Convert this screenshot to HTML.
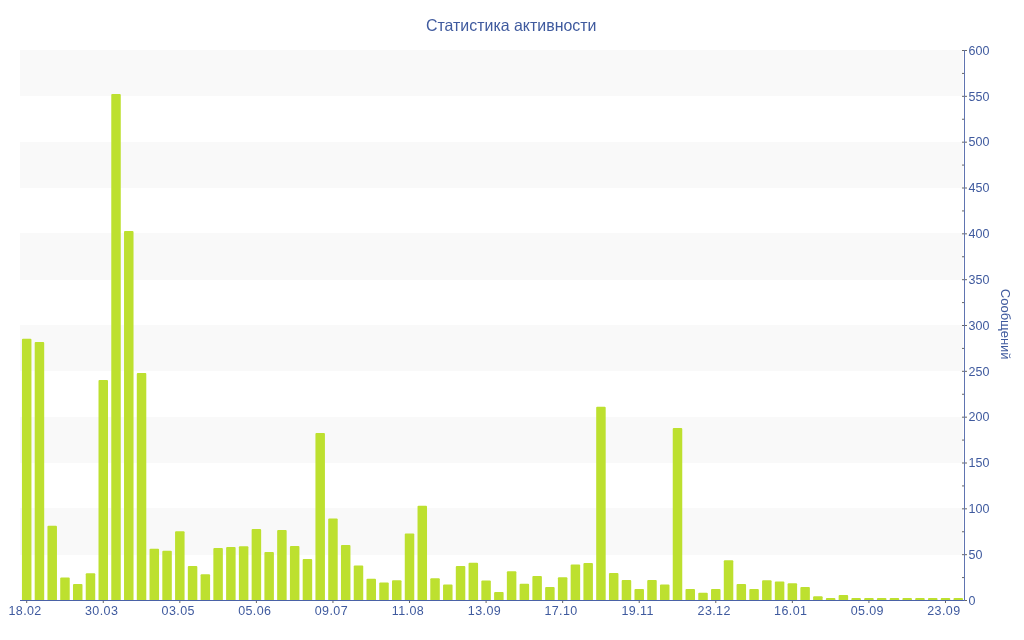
<!DOCTYPE html>
<html><head><meta charset="utf-8"><style>
html,body{margin:0;padding:0;background:#fff;}
svg{display:block;-webkit-font-smoothing:antialiased;will-change:transform;font-family:"Liberation Sans",sans-serif;}
</style></head><body>
<svg width="1024" height="640" viewBox="0 0 1024 640">
<rect x="20" y="50" width="943" height="46" fill="#f9f9f9"/>
<rect x="20" y="142" width="943" height="46" fill="#f9f9f9"/>
<rect x="20" y="233" width="943" height="47" fill="#f9f9f9"/>
<rect x="20" y="325" width="943" height="46" fill="#f9f9f9"/>
<rect x="20" y="417" width="943" height="46" fill="#f9f9f9"/>
<rect x="20" y="508" width="943" height="47" fill="#f9f9f9"/>
<path d="M21.94,600V339.75Q21.94,338.75 22.94,338.75H30.44Q31.44,338.75 31.44,339.75V600Z" fill="#bde02f"/>
<path d="M34.70,600V343.10Q34.70,342.10 35.70,342.10H43.20Q44.20,342.10 44.20,343.10V600Z" fill="#bde02f"/>
<path d="M47.46,600V526.75Q47.46,525.75 48.46,525.75H55.96Q56.96,525.75 56.96,526.75V600Z" fill="#bde02f"/>
<path d="M60.22,600V578.50Q60.22,577.50 61.22,577.50H68.72Q69.72,577.50 69.72,578.50V600Z" fill="#bde02f"/>
<path d="M72.98,600V585.00Q72.98,584.00 73.98,584.00H81.48Q82.48,584.00 82.48,585.00V600Z" fill="#bde02f"/>
<path d="M85.74,600V574.25Q85.74,573.25 86.74,573.25H94.24Q95.24,573.25 95.24,574.25V600Z" fill="#bde02f"/>
<path d="M98.51,600V381.00Q98.51,380.00 99.51,380.00H107.01Q108.01,380.00 108.01,381.00V600Z" fill="#bde02f"/>
<path d="M111.27,600V95.06Q111.27,94.06 112.27,94.06H119.77Q120.77,94.06 120.77,95.06V600Z" fill="#bde02f"/>
<path d="M124.03,600V232.00Q124.03,231.00 125.03,231.00H132.53Q133.53,231.00 133.53,232.00V600Z" fill="#bde02f"/>
<path d="M136.79,600V374.00Q136.79,373.00 137.79,373.00H145.29Q146.29,373.00 146.29,374.00V600Z" fill="#bde02f"/>
<path d="M149.55,600V549.75Q149.55,548.75 150.55,548.75H158.05Q159.05,548.75 159.05,549.75V600Z" fill="#bde02f"/>
<path d="M162.31,600V551.75Q162.31,550.75 163.31,550.75H170.81Q171.81,550.75 171.81,551.75V600Z" fill="#bde02f"/>
<path d="M175.07,600V532.25Q175.07,531.25 176.07,531.25H183.57Q184.57,531.25 184.57,532.25V600Z" fill="#bde02f"/>
<path d="M187.83,600V567.00Q187.83,566.00 188.83,566.00H196.33Q197.33,566.00 197.33,567.00V600Z" fill="#bde02f"/>
<path d="M200.59,600V575.25Q200.59,574.25 201.59,574.25H209.09Q210.09,574.25 210.09,575.25V600Z" fill="#bde02f"/>
<path d="M213.35,600V549.00Q213.35,548.00 214.35,548.00H221.85Q222.85,548.00 222.85,549.00V600Z" fill="#bde02f"/>
<path d="M226.12,600V548.00Q226.12,547.00 227.12,547.00H234.62Q235.62,547.00 235.62,548.00V600Z" fill="#bde02f"/>
<path d="M238.88,600V547.25Q238.88,546.25 239.88,546.25H247.38Q248.38,546.25 248.38,547.25V600Z" fill="#bde02f"/>
<path d="M251.64,600V530.00Q251.64,529.00 252.64,529.00H260.14Q261.14,529.00 261.14,530.00V600Z" fill="#bde02f"/>
<path d="M264.40,600V553.00Q264.40,552.00 265.40,552.00H272.90Q273.90,552.00 273.90,553.00V600Z" fill="#bde02f"/>
<path d="M277.16,600V531.00Q277.16,530.00 278.16,530.00H285.66Q286.66,530.00 286.66,531.00V600Z" fill="#bde02f"/>
<path d="M289.92,600V547.00Q289.92,546.00 290.92,546.00H298.42Q299.42,546.00 299.42,547.00V600Z" fill="#bde02f"/>
<path d="M302.68,600V560.00Q302.68,559.00 303.68,559.00H311.18Q312.18,559.00 312.18,560.00V600Z" fill="#bde02f"/>
<path d="M315.44,600V433.90Q315.44,432.90 316.44,432.90H323.94Q324.94,432.90 324.94,433.90V600Z" fill="#bde02f"/>
<path d="M328.20,600V519.40Q328.20,518.40 329.20,518.40H336.70Q337.70,518.40 337.70,519.40V600Z" fill="#bde02f"/>
<path d="M340.96,600V546.00Q340.96,545.00 341.96,545.00H349.46Q350.46,545.00 350.46,546.00V600Z" fill="#bde02f"/>
<path d="M353.73,600V566.50Q353.73,565.50 354.73,565.50H362.23Q363.23,565.50 363.23,566.50V600Z" fill="#bde02f"/>
<path d="M366.49,600V579.75Q366.49,578.75 367.49,578.75H374.99Q375.99,578.75 375.99,579.75V600Z" fill="#bde02f"/>
<path d="M379.25,600V583.50Q379.25,582.50 380.25,582.50H387.75Q388.75,582.50 388.75,583.50V600Z" fill="#bde02f"/>
<path d="M392.01,600V581.25Q392.01,580.25 393.01,580.25H400.51Q401.51,580.25 401.51,581.25V600Z" fill="#bde02f"/>
<path d="M404.77,600V534.45Q404.77,533.45 405.77,533.45H413.27Q414.27,533.45 414.27,534.45V600Z" fill="#bde02f"/>
<path d="M417.53,600V506.80Q417.53,505.80 418.53,505.80H426.03Q427.03,505.80 427.03,506.80V600Z" fill="#bde02f"/>
<path d="M430.29,600V579.25Q430.29,578.25 431.29,578.25H438.79Q439.79,578.25 439.79,579.25V600Z" fill="#bde02f"/>
<path d="M443.05,600V585.50Q443.05,584.50 444.05,584.50H451.55Q452.55,584.50 452.55,585.50V600Z" fill="#bde02f"/>
<path d="M455.81,600V567.00Q455.81,566.00 456.81,566.00H464.31Q465.31,566.00 465.31,567.00V600Z" fill="#bde02f"/>
<path d="M468.57,600V563.75Q468.57,562.75 469.57,562.75H477.07Q478.07,562.75 478.07,563.75V600Z" fill="#bde02f"/>
<path d="M481.34,600V581.50Q481.34,580.50 482.34,580.50H489.84Q490.84,580.50 490.84,581.50V600Z" fill="#bde02f"/>
<path d="M494.10,600V593.00Q494.10,592.00 495.10,592.00H502.60Q503.60,592.00 503.60,593.00V600Z" fill="#bde02f"/>
<path d="M506.86,600V572.25Q506.86,571.25 507.86,571.25H515.36Q516.36,571.25 516.36,572.25V600Z" fill="#bde02f"/>
<path d="M519.62,600V584.75Q519.62,583.75 520.62,583.75H528.12Q529.12,583.75 529.12,584.75V600Z" fill="#bde02f"/>
<path d="M532.38,600V577.00Q532.38,576.00 533.38,576.00H540.88Q541.88,576.00 541.88,577.00V600Z" fill="#bde02f"/>
<path d="M545.14,600V588.00Q545.14,587.00 546.14,587.00H553.64Q554.64,587.00 554.64,588.00V600Z" fill="#bde02f"/>
<path d="M557.90,600V578.25Q557.90,577.25 558.90,577.25H566.40Q567.40,577.25 567.40,578.25V600Z" fill="#bde02f"/>
<path d="M570.66,600V565.50Q570.66,564.50 571.66,564.50H579.16Q580.16,564.50 580.16,565.50V600Z" fill="#bde02f"/>
<path d="M583.42,600V564.00Q583.42,563.00 584.42,563.00H591.92Q592.92,563.00 592.92,564.00V600Z" fill="#bde02f"/>
<path d="M596.19,600V407.70Q596.19,406.70 597.19,406.70H604.69Q605.69,406.70 605.69,407.70V600Z" fill="#bde02f"/>
<path d="M608.95,600V574.00Q608.95,573.00 609.95,573.00H617.45Q618.45,573.00 618.45,574.00V600Z" fill="#bde02f"/>
<path d="M621.71,600V581.00Q621.71,580.00 622.71,580.00H630.21Q631.21,580.00 631.21,581.00V600Z" fill="#bde02f"/>
<path d="M634.47,600V590.00Q634.47,589.00 635.47,589.00H642.97Q643.97,589.00 643.97,590.00V600Z" fill="#bde02f"/>
<path d="M647.23,600V581.00Q647.23,580.00 648.23,580.00H655.73Q656.73,580.00 656.73,581.00V600Z" fill="#bde02f"/>
<path d="M659.99,600V585.50Q659.99,584.50 660.99,584.50H668.49Q669.49,584.50 669.49,585.50V600Z" fill="#bde02f"/>
<path d="M672.75,600V429.10Q672.75,428.10 673.75,428.10H681.25Q682.25,428.10 682.25,429.10V600Z" fill="#bde02f"/>
<path d="M685.51,600V590.00Q685.51,589.00 686.51,589.00H694.01Q695.01,589.00 695.01,590.00V600Z" fill="#bde02f"/>
<path d="M698.27,600V593.75Q698.27,592.75 699.27,592.75H706.77Q707.77,592.75 707.77,593.75V600Z" fill="#bde02f"/>
<path d="M711.03,600V590.00Q711.03,589.00 712.03,589.00H719.53Q720.53,589.00 720.53,590.00V600Z" fill="#bde02f"/>
<path d="M723.79,600V561.25Q723.79,560.25 724.79,560.25H732.29Q733.29,560.25 733.29,561.25V600Z" fill="#bde02f"/>
<path d="M736.56,600V585.10Q736.56,584.10 737.56,584.10H745.06Q746.06,584.10 746.06,585.10V600Z" fill="#bde02f"/>
<path d="M749.32,600V590.10Q749.32,589.10 750.32,589.10H757.82Q758.82,589.10 758.82,590.10V600Z" fill="#bde02f"/>
<path d="M762.08,600V581.25Q762.08,580.25 763.08,580.25H770.58Q771.58,580.25 771.58,581.25V600Z" fill="#bde02f"/>
<path d="M774.84,600V582.50Q774.84,581.50 775.84,581.50H783.34Q784.34,581.50 784.34,582.50V600Z" fill="#bde02f"/>
<path d="M787.60,600V584.25Q787.60,583.25 788.60,583.25H796.10Q797.10,583.25 797.10,584.25V600Z" fill="#bde02f"/>
<path d="M800.36,600V588.00Q800.36,587.00 801.36,587.00H808.86Q809.86,587.00 809.86,588.00V600Z" fill="#bde02f"/>
<path d="M813.12,600V597.25Q813.12,596.25 814.12,596.25H821.62Q822.62,596.25 822.62,597.25V600Z" fill="#bde02f"/>
<path d="M825.88,600V598.90Q825.88,597.90 826.88,597.90H834.38Q835.38,597.90 835.38,598.90V600Z" fill="#bde02f"/>
<path d="M838.64,600V596.00Q838.64,595.00 839.64,595.00H847.14Q848.14,595.00 848.14,596.00V600Z" fill="#bde02f"/>
<path d="M851.40,600V598.90Q851.40,597.90 852.40,597.90H859.90Q860.90,597.90 860.90,598.90V600Z" fill="#bde02f"/>
<path d="M864.17,600V598.90Q864.17,597.90 865.17,597.90H872.67Q873.67,597.90 873.67,598.90V600Z" fill="#bde02f"/>
<path d="M876.93,600V598.90Q876.93,597.90 877.93,597.90H885.43Q886.43,597.90 886.43,598.90V600Z" fill="#bde02f"/>
<path d="M889.69,600V598.90Q889.69,597.90 890.69,597.90H898.19Q899.19,597.90 899.19,598.90V600Z" fill="#bde02f"/>
<path d="M902.45,600V598.90Q902.45,597.90 903.45,597.90H910.95Q911.95,597.90 911.95,598.90V600Z" fill="#bde02f"/>
<path d="M915.21,600V598.90Q915.21,597.90 916.21,597.90H923.71Q924.71,597.90 924.71,598.90V600Z" fill="#bde02f"/>
<path d="M927.97,600V598.90Q927.97,597.90 928.97,597.90H936.47Q937.47,597.90 937.47,598.90V600Z" fill="#bde02f"/>
<path d="M940.73,600V598.90Q940.73,597.90 941.73,597.90H949.23Q950.23,597.90 950.23,598.90V600Z" fill="#bde02f"/>
<path d="M953.49,600V598.90Q953.49,597.90 954.49,597.90H961.99Q962.99,597.90 962.99,598.90V600Z" fill="#bde02f"/>
<rect x="26.19" y="600" width="1" height="3" fill="#666666"/>
<text x="25.09" y="615" font-size="12.5" letter-spacing="0.4" fill="#3f5a9e" text-anchor="middle">18.02</text>
<rect x="102.76" y="600" width="1" height="3" fill="#666666"/>
<text x="101.66" y="615" font-size="12.5" letter-spacing="0.4" fill="#3f5a9e" text-anchor="middle">30.03</text>
<rect x="179.32" y="600" width="1" height="3" fill="#666666"/>
<text x="178.22" y="615" font-size="12.5" letter-spacing="0.4" fill="#3f5a9e" text-anchor="middle">03.05</text>
<rect x="255.89" y="600" width="1" height="3" fill="#666666"/>
<text x="254.79" y="615" font-size="12.5" letter-spacing="0.4" fill="#3f5a9e" text-anchor="middle">05.06</text>
<rect x="332.45" y="600" width="1" height="3" fill="#666666"/>
<text x="331.35" y="615" font-size="12.5" letter-spacing="0.4" fill="#3f5a9e" text-anchor="middle">09.07</text>
<rect x="409.02" y="600" width="1" height="3" fill="#666666"/>
<text x="407.92" y="615" font-size="12.5" letter-spacing="0.4" fill="#3f5a9e" text-anchor="middle">11.08</text>
<rect x="485.59" y="600" width="1" height="3" fill="#666666"/>
<text x="484.49" y="615" font-size="12.5" letter-spacing="0.4" fill="#3f5a9e" text-anchor="middle">13.09</text>
<rect x="562.15" y="600" width="1" height="3" fill="#666666"/>
<text x="561.05" y="615" font-size="12.5" letter-spacing="0.4" fill="#3f5a9e" text-anchor="middle">17.10</text>
<rect x="638.72" y="600" width="1" height="3" fill="#666666"/>
<text x="637.62" y="615" font-size="12.5" letter-spacing="0.4" fill="#3f5a9e" text-anchor="middle">19.11</text>
<rect x="715.28" y="600" width="1" height="3" fill="#666666"/>
<text x="714.18" y="615" font-size="12.5" letter-spacing="0.4" fill="#3f5a9e" text-anchor="middle">23.12</text>
<rect x="791.85" y="600" width="1" height="3" fill="#666666"/>
<text x="790.75" y="615" font-size="12.5" letter-spacing="0.4" fill="#3f5a9e" text-anchor="middle">16.01</text>
<rect x="868.42" y="600" width="1" height="3" fill="#666666"/>
<text x="867.32" y="615" font-size="12.5" letter-spacing="0.4" fill="#3f5a9e" text-anchor="middle">05.09</text>
<rect x="944.98" y="600" width="1" height="3" fill="#666666"/>
<text x="943.88" y="615" font-size="12.5" letter-spacing="0.4" fill="#3f5a9e" text-anchor="middle">23.09</text>
<rect x="962" y="600.00" width="5" height="1" fill="#666666"/>
<rect x="962" y="577.08" width="2" height="1" fill="#666666"/>
<rect x="962" y="554.17" width="5" height="1" fill="#666666"/>
<rect x="962" y="531.25" width="2" height="1" fill="#666666"/>
<rect x="962" y="508.33" width="5" height="1" fill="#666666"/>
<rect x="962" y="485.42" width="2" height="1" fill="#666666"/>
<rect x="962" y="462.50" width="5" height="1" fill="#666666"/>
<rect x="962" y="439.58" width="2" height="1" fill="#666666"/>
<rect x="962" y="416.67" width="5" height="1" fill="#666666"/>
<rect x="962" y="393.75" width="2" height="1" fill="#666666"/>
<rect x="962" y="370.83" width="5" height="1" fill="#666666"/>
<rect x="962" y="347.92" width="2" height="1" fill="#666666"/>
<rect x="962" y="325.00" width="5" height="1" fill="#666666"/>
<rect x="962" y="302.08" width="2" height="1" fill="#666666"/>
<rect x="962" y="279.17" width="5" height="1" fill="#666666"/>
<rect x="962" y="256.25" width="2" height="1" fill="#666666"/>
<rect x="962" y="233.33" width="5" height="1" fill="#666666"/>
<rect x="962" y="210.42" width="2" height="1" fill="#666666"/>
<rect x="962" y="187.50" width="5" height="1" fill="#666666"/>
<rect x="962" y="164.58" width="2" height="1" fill="#666666"/>
<rect x="962" y="141.67" width="5" height="1" fill="#666666"/>
<rect x="962" y="118.75" width="2" height="1" fill="#666666"/>
<rect x="962" y="95.83" width="5" height="1" fill="#666666"/>
<rect x="962" y="72.92" width="2" height="1" fill="#666666"/>
<rect x="962" y="50.00" width="5" height="1" fill="#666666"/>
<rect x="20" y="600" width="945" height="1" fill="#4a62a6"/>
<rect x="964" y="50" width="1" height="551" fill="#6074b0"/>
<text x="968.6" y="604.70" font-size="12.5" fill="#3f5a9e">0</text>
<text x="968.6" y="558.87" font-size="12.5" fill="#3f5a9e">50</text>
<text x="968.6" y="513.03" font-size="12.5" fill="#3f5a9e">100</text>
<text x="968.6" y="467.20" font-size="12.5" fill="#3f5a9e">150</text>
<text x="968.6" y="421.37" font-size="12.5" fill="#3f5a9e">200</text>
<text x="968.6" y="375.53" font-size="12.5" fill="#3f5a9e">250</text>
<text x="968.6" y="329.70" font-size="12.5" fill="#3f5a9e">300</text>
<text x="968.6" y="283.87" font-size="12.5" fill="#3f5a9e">350</text>
<text x="968.6" y="238.03" font-size="12.5" fill="#3f5a9e">400</text>
<text x="968.6" y="192.20" font-size="12.5" fill="#3f5a9e">450</text>
<text x="968.6" y="146.37" font-size="12.5" fill="#3f5a9e">500</text>
<text x="968.6" y="100.53" font-size="12.5" fill="#3f5a9e">550</text>
<text x="968.6" y="54.70" font-size="12.5" fill="#3f5a9e">600</text>
<text transform="translate(511.2,31) scale(0.966,1)" font-size="16.5" fill="#3f5a9e" text-anchor="middle">Статистика активности</text>
<text transform="translate(1001.3,324.2) rotate(90)" font-size="13" fill="#3f5a9e" text-anchor="middle">Сообщений</text>
</svg>
</body></html>
